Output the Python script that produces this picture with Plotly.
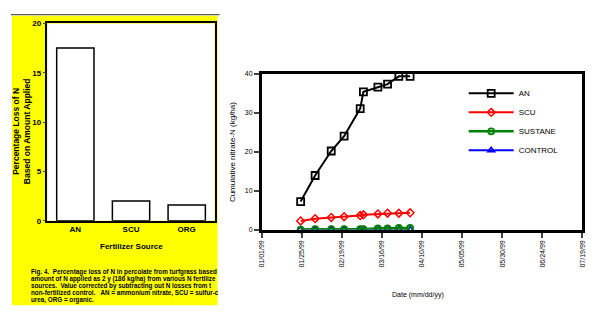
import pandas as pd
import plotly.graph_objects as go

# ---------------- data ----------------
# Fig. 4: percentage N loss by fertilizer source
sources = ["AN", "SCU", "ORG"]
pct_loss = [17.5, 2.0, 1.6]

# Cumulative nitrate-N in percolate (kg/ha)
sample_dates = ["1999-01-25", "1999-02-03", "1999-02-13", "1999-02-21", "1999-03-03",
                "1999-03-05", "1999-03-14", "1999-03-20", "1999-03-27", "1999-04-03"]
an_vals = [7.2, 13.9, 20.2, 24.0, 31.1, 35.4, 36.6, 37.4, 39.4, 39.4]
scu_vals = [2.2, 2.8, 3.1, 3.3, 3.6, 3.8, 4.0, 4.2, 4.2, 4.3]
sustane_vals = [0.0, 0.1, 0.1, 0.1, 0.1, 0.1, 0.3, 0.3, 0.4, 0.4]
control_vals = [0.0, 0.0, 0.0, 0.0, 0.0, 0.0, 0.0, 0.0, 0.0, 0.0]

date_tick_labels = ["01/01/99", "01/25/99", "02/19/99", "03/16/99", "04/10/99",
                    "05/05/99", "05/30/99", "06/24/99", "07/19/99"]

caption_lines = [
    "Fig. 4.  Percentage loss of N in percolate from turfgrass based",
    "amount of N applied as 2 y (186 kg/ha) from various N fertilize",
    "sources.  Value corrected by subtracting out N losses from t",
    "non-fertilized control.   AN = ammonium nitrate, SCU = sulfur-c",
    "urea, ORG = organic.",
]

W, H = 612, 323
FONT = "Liberation Sans, Arial, sans-serif"


def px(x, y):
    return x / W, 1 - y / H


fig = go.Figure()

# ---------------- left panel: bar chart ----------------
fig.add_trace(go.Bar(
    x=sources, y=pct_loss, xaxis="x", yaxis="y", width=0.67,
    marker=dict(color="white", line=dict(color="black", width=1.5)),
    showlegend=False,
))

# ---------------- right panel: cumulative nitrate-N ----------------
series = [
    ("CONTROL", control_vals, "blue", "triangle-up-open", 6, 2, 1.5),
    ("SUSTANE", sustane_vals, "#008000", "circle-open", 6, 2.5, 1.8),
    ("SCU", scu_vals, "#ff0000", "diamond-open", 6, 2, 1.5),
    ("AN", an_vals, "black", "square-open", 7, 2, 1.8),
]
for name, vals, color, symbol, size, lw, mlw in series:
    fig.add_trace(go.Scatter(
        x=sample_dates, y=vals, name=name, xaxis="x2", yaxis="y2",
        mode="lines+markers", cliponaxis=False,
        line=dict(color=color, width=lw),
        marker=dict(symbol=symbol, size=size, color=color, line=dict(color=color, width=mlw)),
    ))

start = pd.Timestamp("1999-01-01")
step = pd.Timedelta(days=24.875)
tickvals = [start + i * step for i in range(len(date_tick_labels))]

x0, y_top = px(44, 20)
x1, y_bot = px(213, 223)
rx0, ry_top = px(261, 72)
rx1, ry_bot = px(585, 232)

fig.update_layout(
    width=W, height=H,
    margin=dict(l=0, r=0, t=0, b=0),
    paper_bgcolor="white", plot_bgcolor="white",
    font=dict(family=FONT, size=8, color="black"),
    xaxis=dict(domain=[x0, x1], anchor="y", showline=True, linecolor="black", linewidth=1.5,
               mirror=True, ticks="", showgrid=False,
               tickfont=dict(family=FONT, size=8, color="black", weight="bold")),
    yaxis=dict(domain=[y_bot, y_top], anchor="x", range=[0, 20], tickvals=[0, 5, 10, 15, 20],
               showline=True, linecolor="black", linewidth=1.5, mirror=True,
               ticks="outside", ticklen=3, tickwidth=1, showgrid=False, zeroline=False,
               tickfont=dict(family=FONT, size=8, color="black", weight="bold")),
    xaxis2=dict(domain=[rx0, rx1], anchor="y2", type="date",
                range=[start, start + 8 * step],
                tickvals=tickvals, ticktext=date_tick_labels, tickangle=-90,
                showline=True, linecolor="black", linewidth=3, mirror=True,
                ticks="outside", ticklen=5, tickwidth=2, showgrid=False, zeroline=False,
                tickfont=dict(family=FONT, size=7, color="black")),
    yaxis2=dict(domain=[ry_bot, ry_top], anchor="x2", range=[0, 40], tickvals=[0, 10, 20, 30, 40],
                showline=True, linecolor="black", linewidth=3, mirror=True,
                ticks="outside", ticklen=5, tickwidth=2, showgrid=False, zeroline=False,
                tickfont=dict(family=FONT, size=7, color="black")),
    legend=dict(x=465 / W, y=1 - 77 / H, xanchor="left", yanchor="top",
                traceorder="reversed", bgcolor="rgba(0,0,0,0)", itemwidth=45,
                font=dict(family=FONT, size=8, color="black")),
    shapes=[
        dict(type="rect", xref="paper", yref="paper", layer="below",
             x0=8 / W, x1=216 / W, y0=1 - 310 / H, y1=1 - 12 / H,
             fillcolor="#ffff00", line=dict(width=0)),
        dict(type="line", xref="paper", yref="paper",
             x0=7 / W, x1=218 / W, y0=1 - 11 / H, y1=1 - 11 / H,
             line=dict(color="#333333", width=1)),
        dict(type="rect", xref="paper", yref="paper", layer="below",
             x0=x0, x1=x1, y0=y_bot, y1=y_top,
             fillcolor="white", line=dict(width=0)),
    ],
)

annotations = []


def note(x, y, text, size, bold=False, angle=0, xanchor="center"):
    ax, ay = px(x, y)
    annotations.append(dict(x=ax, y=ay, xref="paper", yref="paper", showarrow=False,
                            textangle=angle, xanchor=xanchor, yanchor="middle", text=text,
                            font=dict(family=FONT, size=size,
                                      weight="bold" if bold else "normal")))


note(18, 131, "Percentage Loss of N<br>Based on Amount Applied", 8.5, bold=True, angle=-90)
note(129, 249, "Fertilizer Source", 8, bold=True)
for i, line in enumerate(caption_lines):
    note(25, 276 + i * 7, line, 6.3, bold=True, xanchor="left")
note(231, 152, "Cumulative nitrate-N (kg/ha)", 8, angle=-90)
note(419, 299, "Date (mm/dd/yy)", 7)
fig.update_layout(annotations=annotations)

fig.write_html("out.html")
